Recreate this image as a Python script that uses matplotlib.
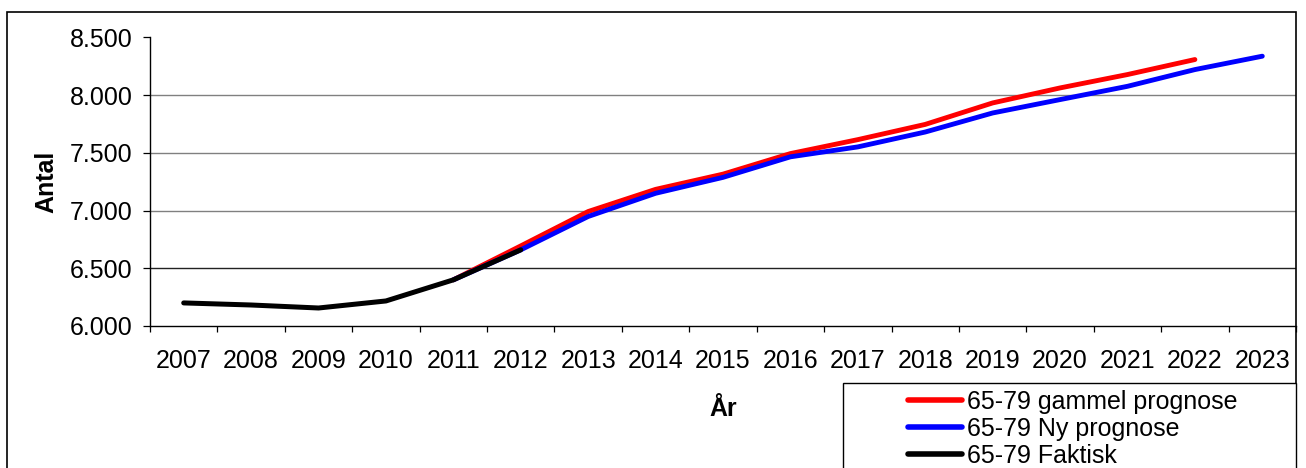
import matplotlib
matplotlib.use("Agg")
import matplotlib.pyplot as plt
from matplotlib.ticker import FuncFormatter, FixedLocator
from matplotlib.patches import Rectangle
import numpy as np

plt.rcParams['font.family'] = ['Liberation Sans', 'DejaVu Sans']

years = [str(y) for y in range(2007, 2024)]
nan = np.nan

# 65-79 aarige: gammel prognose, ny prognose og faktisk antal
gammel = [nan, nan, nan, nan, 6400, 6694, 6992, 7184, 7316, 7494, 7615, 7747,
          7933, 8063, 8179, 8309, nan]
ny = [nan, nan, nan, nan, 6400, 6660, 6949, 7150, 7288, 7466, 7552, 7681,
      7846, 7962, 8077, 8222, 8338]
faktisk = [6200, 6182, 6156, 6217, 6400, 6660]

FS = 18

W, H = 1306, 468
fig = plt.figure(figsize=(W / 100, H / 100), dpi=100)
ax = fig.add_axes([150 / W, (H - 326) / H, (1296 - 150) / W, (326 - 37.5) / H])

x = np.arange(len(years))
kw = dict(solid_capstyle='round', solid_joinstyle='round')
l1, = ax.plot(x, gammel, color='#ff0000', lw=3.5, label='65-79 gammel prognose',
              zorder=3, **kw)
l2, = ax.plot(x, ny, color='#0000ff', lw=3.5, label='65-79 Ny prognose',
              zorder=4, **kw)
l3, = ax.plot(x[:len(faktisk)], faktisk, color='black', lw=3.6,
              label='65-79 Faktisk', zorder=5, **kw)

ax.set_xlim(-0.5, len(years) - 0.5)
ax.set_ylim(6000, 8500)
ax.set_yticks([6000, 6500, 7000, 7500, 8000, 8500])
ax.yaxis.set_major_formatter(FuncFormatter(lambda v, p: f"{int(v):,}".replace(",", ".")))

ax.set_xticks(x)
ax.set_xticklabels(years)
ax.xaxis.set_minor_locator(FixedLocator(np.arange(-0.5, len(years), 1.0)))
ax.tick_params(axis='x', which='major', length=0, pad=16.5, labelsize=FS)
ax.tick_params(axis='x', which='minor', length=4.5, width=0.9, color='black')
ax.tick_params(axis='y', length=5, width=0.9, pad=7.5, labelsize=FS)

for side in ('top', 'right'):
    ax.spines[side].set_visible(False)
for side in ('left', 'bottom'):
    ax.spines[side].set_linewidth(1.0)

for v in [6500, 7000, 7500, 8000]:
    ax.axhline(v, color='#222222' if v == 6500 else '#808080', lw=1.0, zorder=1)

ax.set_xlabel('År', fontsize=FS, fontweight='bold', labelpad=17)
ax.set_ylabel('Antal', fontsize=FS, fontweight='bold', labelpad=8)

# ramme rundt om diagrammet og forklaringen
fig.patches.append(Rectangle((7 / W, -0.05), (1296 - 7) / W, (H - 12) / H + 0.05,
                             transform=fig.transFigure, fill=False,
                             edgecolor='black', lw=1.2, clip_on=False))
fig.patches.append(Rectangle((843 / W, -0.05), (1296 - 843) / W, (H - 383) / H + 0.05,
                             transform=fig.transFigure, fill=True, facecolor='white',
                             edgecolor='black', lw=1.0, clip_on=False))

leg = fig.legend(handles=[l1, l2, l3], loc='upper left',
                 bbox_to_anchor=(908 / W, (H - 390) / H), frameon=False,
                 fontsize=FS, handlelength=2.15, handletextpad=0.22,
                 labelspacing=0.12, borderpad=0, borderaxespad=0)
for line in leg.get_lines():
    line.set_linewidth(4)

fig.savefig('out.png', dpi=100)
